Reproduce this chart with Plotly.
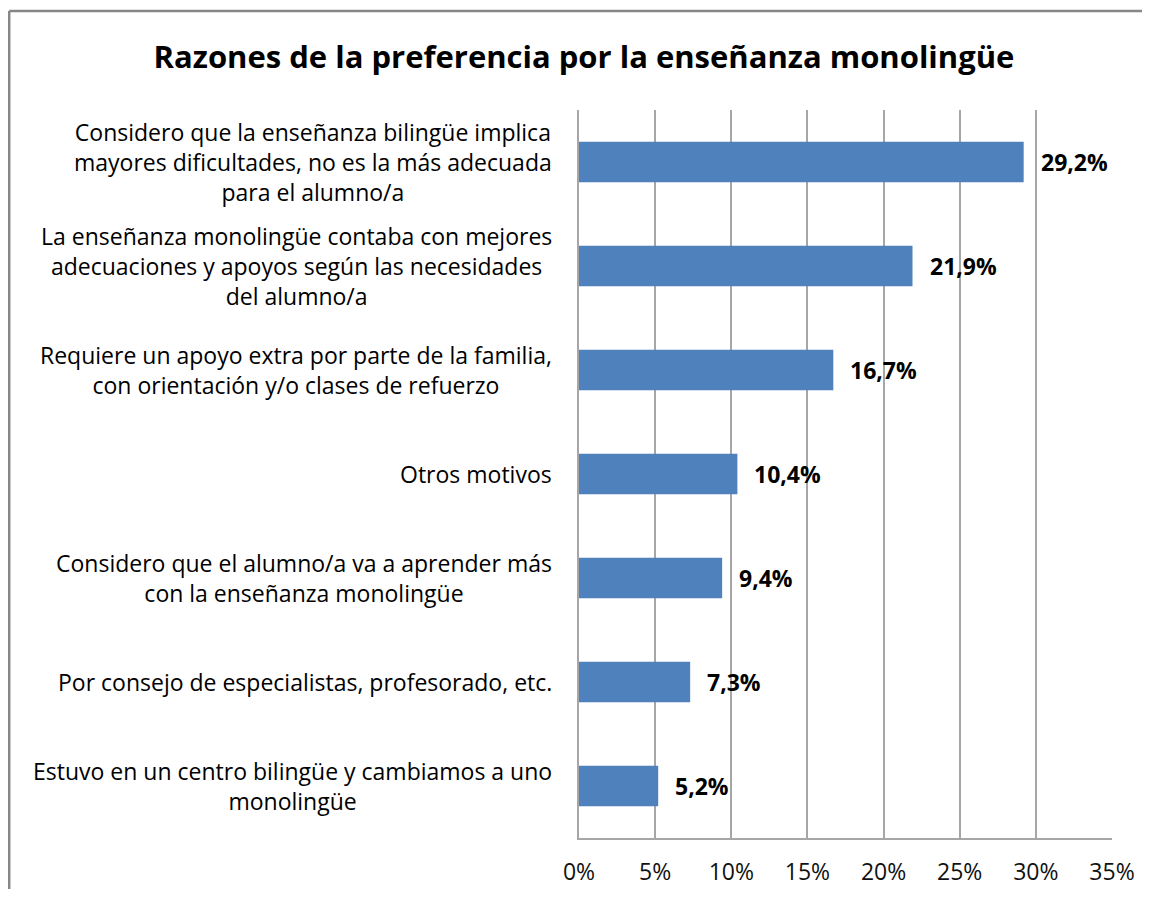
import plotly.graph_objects as go

categories = [
    "Considero que la enseñanza bilingüe implica<br>mayores dificultades, no es la más adecuada<br>para el alumno/a",
    "La enseñanza monolingüe contaba con mejores<br>adecuaciones y apoyos según las necesidades<br>del alumno/a",
    "Requiere un apoyo extra por parte de la familia,<br>con orientación y/o clases de refuerzo",
    "Otros motivos",
    "Considero que el alumno/a va a aprender más<br>con la enseñanza monolingüe",
    "Por consejo de especialistas, profesorado, etc.",
    "Estuvo en un centro bilingüe y cambiamos a uno<br>monolingüe",
]
values = [29.2, 21.9, 16.7, 10.4, 9.4, 7.3, 5.2]
tick_vals = [0, 5, 10, 15, 20, 25, 30, 35]
tick_text = ["0%", "5%", "10%", "15%", "20%", "25%", "30%", "35%"]
title_text = "Razones de la preferencia por la enseñanza monolingüe"

# page has an 8px body margin, so the figure is laid out 8px smaller on each side
OFF = 8
W, H = 1150 - 2 * OFF, 897 - 2 * OFF
ML, MR, MT, MB = 579 - OFF, W - (1112 - OFF), 110 - OFF, H - (838 - OFF)
FONT = "'Open Sans', 'Noto Sans', Arial, sans-serif"

fig = go.Figure()
fig.add_trace(go.Bar(
    y=categories, x=values, orientation="h",
    marker=dict(color="#4F81BD", line=dict(width=0)),
    width=0.39, hoverinfo="skip",
))

annotations = []
for c, v in zip(categories, values):
    annotations.append(dict(
        x=0, y=c, xref="paper", yref="y", text=c, showarrow=False,
        xanchor="right", yanchor="middle", align="center", xshift=-25,
        font=dict(family=FONT, size=23, color="#000000"),
    ))
    annotations.append(dict(
        x=v, y=c, xref="x", yref="y",
        text="<b>" + f"{v:.1f}".replace(".", ",") + "%</b>", showarrow=False,
        xanchor="left", yanchor="middle", xshift=15,
        font=dict(family=FONT, size=23, color="#000000"),
    ))

pw = W - ML - MR
ph = H - MT - MB
x_left = (1.2 - ML) / pw
y_top = 1 + (MT - (11 - OFF)) / ph
shapes = [
    dict(type="line", xref="paper", yref="paper", x0=x_left, x1=1 + (MR + 10) / pw,
         y0=y_top, y1=y_top, line=dict(color="#878787", width=2.5)),
    dict(type="line", xref="paper", yref="paper", x0=x_left, x1=x_left,
         y0=y_top, y1=-(MB + 10) / ph, line=dict(color="#878787", width=2.5)),
]

fig.update_layout(
    width=W, height=H,
    margin=dict(l=ML, r=MR, t=MT, b=MB, autoexpand=False),
    paper_bgcolor="white", plot_bgcolor="white",
    showlegend=False,
    bargap=0.6,
    title=dict(text="<b>" + title_text + "</b>", x=(584 - OFF) / W, xanchor="center",
               y=1 - (57 - OFF) / H, yanchor="middle", yref="container",
               font=dict(family=FONT, size=31, color="#000000")),
    xaxis=dict(range=[0, 35], tickvals=tick_vals, ticktext=tick_text,
               showgrid=True, gridcolor="#a6a6a6", gridwidth=1.5,
               showline=True, linecolor="#a6a6a6", linewidth=1.5,
               ticks="", ticklabelstandoff=13, zeroline=False, automargin=False,
               tickfont=dict(family=FONT, size=23, color="#111111")),
    yaxis=dict(autorange="reversed", showticklabels=False, showgrid=False,
               showline=True, linecolor="#a6a6a6", linewidth=1.5, ticks="",
               automargin=False),
    annotations=annotations,
    shapes=shapes,
)

fig.write_html("out.html")
